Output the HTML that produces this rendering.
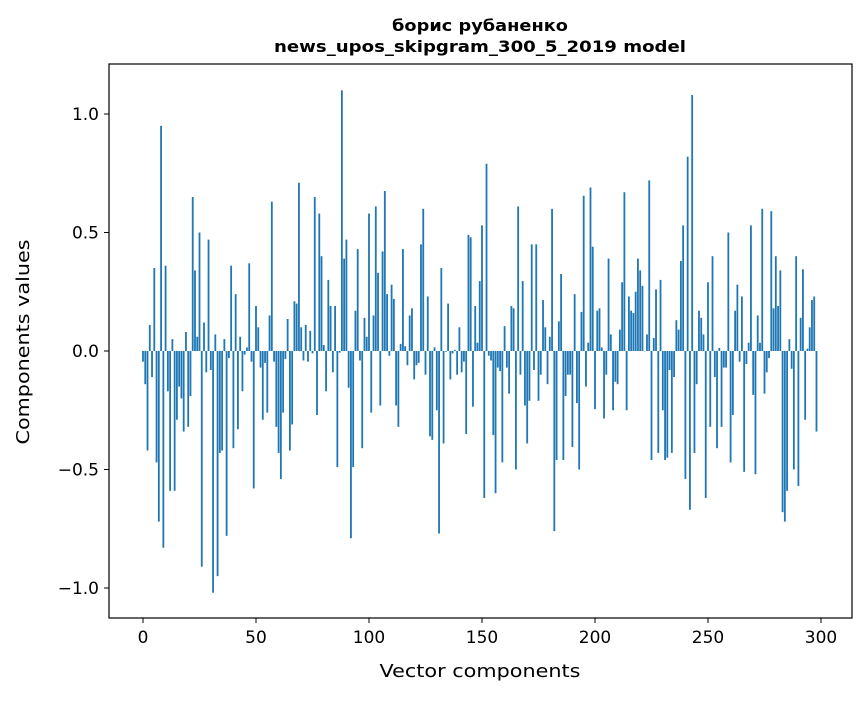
<!DOCTYPE html>
<html><head><meta charset="utf-8">
<style>
body{margin:0;background:#fff;}
svg text{font-family:"DejaVu Sans","Liberation Sans",sans-serif;fill:#000;}
</style></head>
<body>
<svg id="chart" width="867" height="696" xmlns="http://www.w3.org/2000/svg">
<text x="480" y="31" text-anchor="middle" font-size="16" font-weight="bold" textLength="176" lengthAdjust="spacingAndGlyphs">борис рубаненко</text>
<text x="480" y="52" text-anchor="middle" font-size="16" font-weight="bold" textLength="412" lengthAdjust="spacingAndGlyphs">news_upos_skipgram_300_5_2019 model</text>
<g id="bars"></g>
<rect x="109" y="64" width="743" height="554" fill="none" stroke="#000" stroke-width="1.2"/>
<g id="xticks"></g>
<g id="yticks"></g>
<text x="480" y="677" text-anchor="middle" font-size="18" textLength="201" lengthAdjust="spacingAndGlyphs">Vector components</text>
<text transform="translate(29,342) rotate(-90)" text-anchor="middle" font-size="18" textLength="205" lengthAdjust="spacingAndGlyphs">Components values</text>
</svg>
<script>
const values = [
-0.045,-0.14,-0.42,0.11,-0.11,0.35,-0.47,-0.72,0.95,-0.83,
0.36,-0.17,-0.59,0.05,-0.59,-0.29,-0.15,-0.2,-0.34,0.08,
-0.32,-0.19,0.65,0.34,0.06,0.5,-0.91,0.12,-0.09,0.47,
-0.08,-1.02,0.07,-0.95,-0.43,-0.42,0.05,-0.78,-0.03,0.36,
-0.41,0.24,-0.33,0.06,-0.17,-0.015,0.015,0.37,-0.045,-0.58,
0.19,0.1,-0.07,-0.29,-0.05,-0.26,0.15,0.63,-0.045,-0.32,
-0.43,-0.54,-0.26,-0.034,0.135,-0.42,-0.31,0.21,0.2,0.71,
0.1,-0.04,0.11,-0.045,0.085,-0.01,0.65,-0.27,0.58,0.4,
0.025,-0.17,0.3,0.19,-0.09,0.19,-0.49,-0.007,1.1,0.39,
0.47,-0.155,-0.79,-0.49,0.17,0.43,-0.04,-0.41,0.14,0.06,
0.58,-0.26,0.15,0.61,0.33,-0.23,0.42,0.675,0.24,-0.02,
0.28,0.22,-0.23,-0.32,0.03,0.43,0.02,-0.06,0.15,0.18,
-0.12,-0.06,-0.05,0.45,0.6,-0.1,0.23,-0.36,-0.375,0.015,
-0.25,-0.77,0.35,-0.39,-0.003,0.2,-0.12,-0.01,0.005,-0.1,
0.1,-0.09,-0.045,-0.35,0.49,0.48,-0.235,0.19,0.035,0.295,
0.53,-0.62,0.79,-0.02,-0.04,-0.355,-0.6,-0.07,-0.085,-0.47,
0.105,-0.07,-0.18,0.19,0.18,-0.5,0.61,-0.1,0.295,-0.23,
-0.39,-0.21,0.45,-0.08,0.45,-0.21,-0.1,0.215,0.1,-0.14,
0.06,0.6,-0.76,-0.46,0.125,0.325,-0.46,-0.19,-0.1,-0.1,
-0.405,0.24,-0.22,-0.5,0.165,0.655,-0.15,0.035,0.69,0.44,
-0.245,0.17,0.18,0.015,-0.285,-0.1,0.39,0.07,-0.25,-0.13,
-0.14,0.09,0.29,0.67,-0.25,0.23,0.17,0.16,0.25,0.39,
0.34,0.275,0.0,0.07,0.72,-0.46,0.055,0.26,-0.43,0.3,
-0.25,-0.46,-0.45,-0.08,-0.43,-0.11,0.13,0.09,0.38,0.53,
-0.54,0.82,-0.67,1.08,-0.43,-0.14,0.17,0.14,0.07,-0.62,
0.29,-0.32,0.4,-0.11,-0.41,0.013,-0.32,-0.07,-0.07,0.5,
-0.47,-0.27,0.17,0.28,-0.045,0.23,-0.51,-0.055,0.035,0.53,
-0.185,-0.52,0.15,0.035,0.6,-0.18,-0.09,-0.03,0.59,0.18,
0.4,0.19,0.34,-0.68,-0.72,-0.59,0.05,-0.075,-0.5,0.4,
-0.57,0.14,0.345,-0.29,0.01,0.1,0.215,0.23,-0.34
];
const xTickValues = [0,50,100,150,200,250,300];
const yTickValues = [-1.0,-0.5,0.0,0.5,1.0];
const yTickLabels = ["\u22121.0","\u22120.5","0.0","0.5","1.0"];

const NS = "http://www.w3.org/2000/svg";
function xs(v){ return 143 + v*2.26; }
function ys(v){ return 351 - v*237; }
const barW = 0.8*2.26;

const bars = document.getElementById('bars');
values.forEach((v,i)=>{
  const r = document.createElementNS(NS,'rect');
  const y0 = ys(0), y1 = ys(v);
  r.setAttribute('x', xs(i)-barW/2);
  r.setAttribute('y', Math.min(y0,y1));
  r.setAttribute('width', barW);
  r.setAttribute('height', Math.max(Math.abs(y1-y0),0.3));
  r.setAttribute('fill','#1f77b4');
  
  
  bars.appendChild(r);
});

const xg = document.getElementById('xticks');
xTickValues.forEach(t=>{
  const l = document.createElementNS(NS,'line');
  l.setAttribute('x1',xs(t)); l.setAttribute('x2',xs(t));
  l.setAttribute('y1',618); l.setAttribute('y2',623);
  l.setAttribute('stroke','#000');
  
  
  xg.appendChild(l);
  const tx = document.createElementNS(NS,'text');
  tx.setAttribute('x',xs(t)); tx.setAttribute('y',643);
  tx.setAttribute('text-anchor','middle'); tx.setAttribute('font-size','17');
  tx.textContent = String(t);
  
  
  xg.appendChild(tx);
});

const yg = document.getElementById('yticks');
yTickValues.forEach((t,i)=>{
  const l = document.createElementNS(NS,'line');
  l.setAttribute('x1',104); l.setAttribute('x2',109);
  l.setAttribute('y1',ys(t)); l.setAttribute('y2',ys(t));
  l.setAttribute('stroke','#000');
  
  
  yg.appendChild(l);
  const tx = document.createElementNS(NS,'text');
  tx.setAttribute('x',99); tx.setAttribute('y',ys(t)+6);
  tx.setAttribute('text-anchor','end'); tx.setAttribute('font-size','17');
  tx.textContent = yTickLabels[i];
  
  
  yg.appendChild(tx);
});
</script>
</body></html>
